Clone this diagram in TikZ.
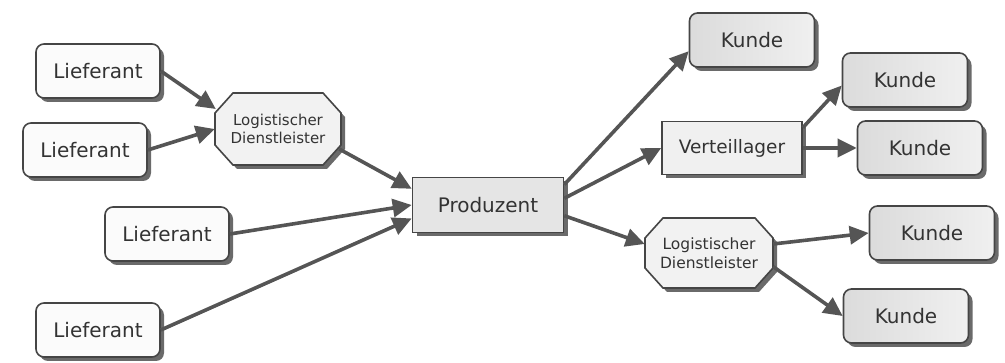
\documentclass[tikz,border=0pt]{standalone}
\usepackage{fontspec}
\setmainfont{DejaVu Sans}
\usetikzlibrary{arrows.meta,shadows,calc}
\definecolor{edge}{HTML}{454545}
\definecolor{arr}{HTML}{555555}
\definecolor{txt}{HTML}{333333}
\definecolor{shad}{HTML}{5A5A5A}
\tikzset{
  base/.style={draw=edge, line width=1.6pt, text=txt, inner sep=0pt,
    drop shadow={shadow xshift=4pt, shadow yshift=-4pt, fill=shad, opacity=0.9}},
  liefbox/.style={base, rounded corners=8pt, fill=gray!3, minimum width=124pt, minimum height=54pt,
    font=\fontsize{20}{24}\selectfont},
  kundebox/.style={base, rounded corners=8pt, left color=gray!28, right color=gray!12,
    minimum width=125pt, minimum height=54pt, font=\fontsize{20}{24}\selectfont},
  sqbox/.style={base, fill=gray!16, font=\fontsize{20}{24}\selectfont},
  octfill/.style={draw=edge, line width=1.6pt, fill=gray!10},
  octshadow/.style={fill=shad, opacity=0.9},
  octtext/.style={draw=none, text=txt, align=center, inner sep=0pt},
  flow/.style={draw=arr, line width=3.6pt, -{Triangle[length=19pt,width=18pt]}}
}
% octagon: name, cx, cy, w, h, chamfer x, chamfer y, font size, text
\newcommand\myoct[9]{%
  \pgfmathsetmacro\ox{#2-#4/2}\pgfmathsetmacro\oX{#2+#4/2}%
  \pgfmathsetmacro\oy{#3-#5/2}\pgfmathsetmacro\oY{#3+#5/2}%
  \pgfmathsetmacro\oa{\ox+#6}\pgfmathsetmacro\oA{\oX-#6}%
  \pgfmathsetmacro\ob{\oy+#7}\pgfmathsetmacro\oB{\oY-#7}%
  \pgfmathsetmacro\olh{#8*1.2}%
  \fill[octshadow, shift={(4pt,-4pt)}] (\oa,\oy) -- (\oA,\oy) -- (\oX,\ob) -- (\oX,\oB) -- (\oA,\oY) -- (\oa,\oY) -- (\ox,\oB) -- (\ox,\ob) -- cycle;
  \filldraw[octfill] (\oa,\oy) -- (\oA,\oy) -- (\oX,\ob) -- (\oX,\oB) -- (\oA,\oY) -- (\oa,\oY) -- (\ox,\oB) -- (\ox,\ob) -- cycle;
  \node[octtext, minimum width=#4pt, minimum height=#5pt, font=\fontsize{#8}{\olh}\selectfont] (#1) at (#2,#3) {#9};
}
\begin{document}
\begin{tikzpicture}[x=1pt,y=-1pt]
\useasboundingbox (0,0) rectangle (1005,363);
% Lieferanten
\node[liefbox] (l1) at (98,71) {Lieferant};
\node[liefbox] (l2) at (85,150) {Lieferant};
\node[liefbox] (l3) at (167,234) {Lieferant};
\node[liefbox] (l4) at (98,330) {Lieferant};
% Logistischer Dienstleister 1
\myoct{log1}{278}{129}{126}{72}{18}{20}{15}{Logistischer\\Dienstleister}
% Produzent
\node[sqbox, minimum width=151pt, minimum height=55pt, fill=gray!20] (prod) at (488,205) {Produzent};
% Kunden
\node[kundebox] (k1) at (752,40) {Kunde};
\node[kundebox] (k2) at (905,80) {Kunde};
\node[sqbox, minimum width=140pt, minimum height=53pt, fill=gray!12, font=\fontsize{18.5}{22}\selectfont] (v) at (732,148) {Verteillager};
\node[kundebox] (k3) at (920,148) {Kunde};
\myoct{log2}{709}{253}{128}{70}{18}{20}{15.5}{Logistischer\\Dienstleister}
\node[kundebox] (k4) at (932,233) {Kunde};
\node[kundebox] (k5) at (906,316) {Kunde};
% Pfeile
\coordinate (log1in) at ($(log1.west)+(1,-20)$);
\coordinate (log1out) at ($(log1.east)+(-2,20)$);
\draw[flow] (l1.east) -- (log1in);
\draw[flow] (l2.east) -- (log1.west);
\draw[flow] (log1out) -- (prod.168);
\draw[flow] (l3.east) -- (prod.west);
\draw[flow] (l4.east) -- (prod.190);
\draw[flow] (prod.15) -- (k1.190);
\draw[flow] (prod.5) -- (v.west);
\draw[flow] (prod.-8) -- (log2.172);
\draw[flow] (v.16) -- (k2.185);
\draw[flow] (v.east) -- (k3.west);
\draw[flow] (log2.8) -- (k4.west);
\draw[flow] (log2.-12) -- (k5.west);
\end{tikzpicture}
\end{document}
